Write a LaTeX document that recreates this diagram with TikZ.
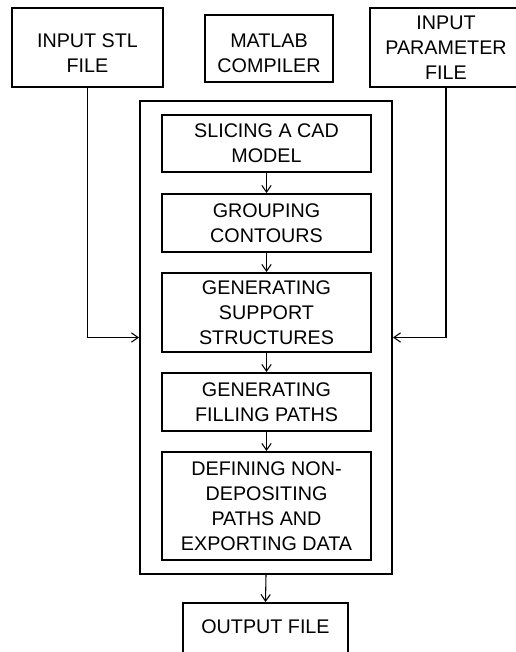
\documentclass[tikz,border=0pt]{standalone}
\usepackage{fontspec}
\setmainfont{Liberation Sans}
\usetikzlibrary{arrows.meta}

\begin{document}
\begin{tikzpicture}[x=0.75pt,y=-0.75pt,
	txt/.style={align=center,inner sep=0pt,font=\fontsize{14.8}{18.75}\selectfont},
	blk/.style={draw,line width=1.5pt,txt},
	stepbox/.style={blk,minimum width=156.75pt},
	flow/.style={line width=0.8pt,-{Straight Barb[length=5pt,width=7pt]}}]
	\useasboundingbox (0,0) rectangle (516,652);
	\clip (0,0) rectangle (516,652);

	\node[blk,minimum width=113.25pt,minimum height=59.25pt,
		label={[txt,yshift=-4.5pt]center:INPUT STL\\FILE}] (stl) at (87.5,47.5) {};
	\node[blk,minimum width=96pt,minimum height=50.25pt,
		label={[txt,yshift=-3.5pt]center:MATLAB\\COMPILER}] (mat) at (269,48.5) {};
	\node[blk,minimum width=114pt,minimum height=59.25pt] (par) at (446,47.5) {INPUT\\PARAMETER\\FILE};

	\node[draw,line width=1.5pt,minimum width=189pt,minimum height=354.75pt] (prog) at (266,337.5) {};

	\node[stepbox,minimum height=42.75pt] (slice) at (266.5,143.5) {SLICING A CAD\\MODEL};
	\node[stepbox,minimum height=43.5pt] (group) at (266.5,223) {GROUPING\\CONTOURS};
	\node[stepbox,minimum height=59.25pt] (supp) at (266.5,312.5) {GENERATING\\SUPPORT\\STRUCTURES};
	\node[stepbox,minimum height=43.5pt] (fill) at (266.5,402) {GENERATING\\FILLING PATHS};
	\node[stepbox,minimum height=81pt] (exp) at (266.5,506) {DEFINING NON-\\DEPOSITING\\PATHS AND\\EXPORTING DATA};

	\node[blk,minimum width=123.75pt,minimum height=45pt,text depth=9pt] (out) at (265.5,633) {OUTPUT FILE};

	\draw[flow] (slice) -- (group);
	\draw[flow] (group) -- (supp);
	\draw[flow] (supp) -- (fill);
	\draw[flow] (fill) -- (exp);
	\draw[flow] (prog.south) -- (out.north);
	\draw[flow] (stl.south) |- (prog.west);
	\draw[flow] (par.south) |- (prog.east);
\end{tikzpicture}
\end{document}
